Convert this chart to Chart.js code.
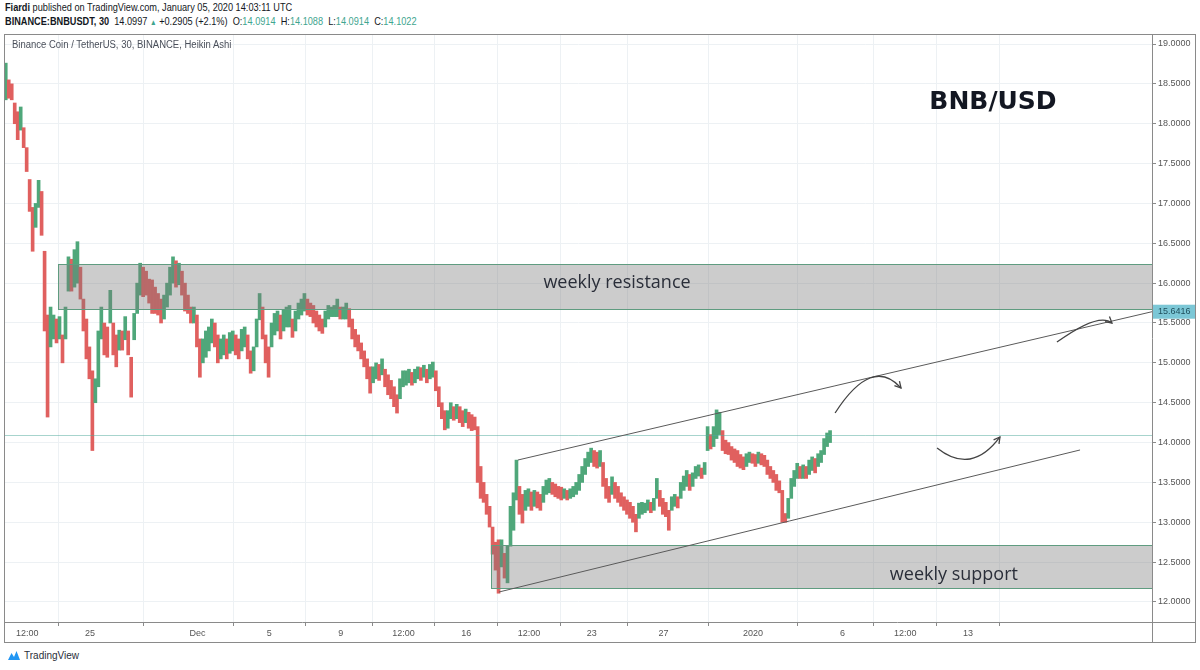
<!DOCTYPE html>
<html lang="en">
<head>
<meta charset="UTF-8" />
<title>BNB/USD - Binance Coin / TetherUS, 30, Heikin Ashi</title>
<script src="https://cdn.jsdelivr.net/npm/chart.js@4"></script>
<style>
  body {
    margin: 0;
    width: 1200px;
    height: 670px;
    background: #fff;
    color: #131722;
    font-family: 'Liberation Sans', Arial, sans-serif;
    position: relative;
    overflow: hidden;
  }
  .head { position: absolute; left: 5px; font-size: 11px; white-space: nowrap; transform: scaleX(0.835); transform-origin: left center; }
  .l1 { top: 1px; }
  .l2 { top: 15px; }
  .val { color: #3fa58f; }
  .tri { color: #3fa58f; font-size: 8px; }
  #frame {
    position: absolute;
    left: 4px; top: 34px;
    width: 1192px; height: 609px;
    border: 1px solid #8a8a8a;
    box-sizing: border-box;
  }
  #chart { position: absolute; left: 0; top: 0; }
  .legend { position: absolute; left: 12px; top: 39px; font-size: 10px; color: #4a4f5a; white-space: nowrap; transform: scaleX(0.95); transform-origin: left center; }
  .brand { position: absolute; left: 7px; top: 649px; font-size: 10px; color: #2a2e39; display: flex; align-items: center; gap: 3px; }
</style>
</head>
<body>

<div class="head l1"><b>Fiardi</b> published on TradingView.com, January 05, 2020 14:03:11 UTC</div>
<div class="head l2"><b>BINANCE:BNBUSDT, 30</b>&nbsp; 14.0997 <span class="tri">&#9650;</span> +0.2905 (+2.1%) &nbsp;O:<span class="val">14.0914</span> &nbsp;H:<span class="val">14.1088</span> &nbsp;L:<span class="val">14.0914</span> &nbsp;C:<span class="val">14.1022</span></div>

<div id="frame">
  <canvas id="chart" width="1190" height="607"></canvas>
</div>
<div class="legend">Binance Coin / TetherUS, 30, BINANCE, Heikin Ashi</div>

<div class="brand">
  <svg width="14" height="12" viewBox="0 0 14 12">
    <path d="M1 11 L4.5 4 L7 8 L9.5 2 L13 11 Z" fill="#2196f3"/>
  </svg>
  <span>TradingView</span>
</div>

<script>
  // 4-hour buckets of the 30 min Heikin Ashi candles, first bucket Nov 20 ~07:00
  const barStart = -10.7;      // days from Dec 1
  const barStep = 1 / 6;

  const lows = [
    18.30, 18.32, 18.30, 18.00, 17.80, 17.92, 17.70, 17.40, 16.90, 16.40,
    16.70, 16.95, 16.60, 15.40, 14.32, 15.20, 15.30, 15.25, 15.30, 15.00,
    15.30, 15.90, 15.90, 15.95, 16.00, 15.80, 15.40, 15.05, 14.80, 13.90,
    14.50, 14.70, 15.30, 15.10, 15.07, 15.50, 15.10, 14.95, 15.16, 15.16,
    15.29, 15.10, 14.57, 15.29, 15.62, 15.85, 15.83, 15.85, 15.75, 15.62,
    15.62, 15.60, 15.50, 15.55, 15.70, 15.85, 16.00, 15.95, 15.98, 15.85,
    15.65, 15.62, 15.50, 15.50, 15.20, 14.82, 15.00, 15.07, 15.15, 15.25,
    15.20, 15.00, 15.05, 15.10, 15.05, 15.12, 15.15, 15.10, 15.05, 15.15,
    15.20, 15.05, 14.87, 14.90, 15.20, 15.54, 15.30, 15.00, 14.82, 15.20,
    15.35, 15.40, 15.30, 15.40, 15.45, 15.45, 15.32, 15.40, 15.55, 15.60,
    15.65, 15.60, 15.58, 15.50, 15.45, 15.40, 15.37, 15.45, 15.55, 15.58,
    15.58, 15.58, 15.55, 15.55, 15.55, 15.45, 15.30, 15.20, 15.15, 15.05,
    14.95, 14.80, 14.62, 14.75, 14.80, 14.78, 14.85, 14.70, 14.60, 14.55,
    14.45, 14.37, 14.55, 14.70, 14.72, 14.75, 14.72, 14.75, 14.80, 14.78,
    14.82, 14.75, 14.80, 14.82, 14.65, 14.45, 14.30, 14.16, 14.18, 14.30,
    14.28, 14.30, 14.25, 14.20, 14.25, 14.18, 14.15, 14.16, 13.50, 13.30,
    13.25, 13.10, 12.94, 12.60, 12.40, 12.11, 12.44, 12.30, 12.24, 12.70,
    12.90, 13.28, 13.10, 12.99, 13.15, 13.20, 13.15, 13.20, 13.18, 13.15,
    13.25, 13.35, 13.37, 13.35, 13.32, 13.30, 13.28, 13.30, 13.28, 13.30,
    13.32, 13.35, 13.40, 13.50, 13.60, 13.70, 13.75, 13.70, 13.68, 13.70,
    13.45, 13.30, 13.25, 13.35, 13.30, 13.25, 13.20, 13.15, 13.10, 13.05,
    13.00, 12.88, 13.05, 13.10, 13.12, 13.15, 13.12, 13.15, 13.30, 13.20,
    13.10, 13.07, 12.90, 13.15, 13.20, 13.18, 13.30, 13.40, 13.45, 13.40,
    13.45, 13.55, 13.58, 13.55, 13.60, 13.90, 13.92, 13.95, 14.05, 14.10,
    13.90, 13.86, 13.85, 13.78, 13.75, 13.70, 13.68, 13.66, 13.70, 13.75,
    13.74, 13.70, 13.74, 13.72, 13.70, 13.60, 13.55, 13.50, 13.40, 13.37,
    13.00, 13.00, 13.05, 13.30, 13.45, 13.55, 13.55, 13.55, 13.55, 13.60,
    13.65, 13.62, 13.70, 13.75, 13.85, 13.95, 14.00
  ];

  const highs = [
    18.76, 18.55, 18.50, 18.26, 18.15, 18.21, 17.95, 17.70, 17.30, 16.95,
    17.00, 17.29, 17.15, 16.40, 15.60, 15.70, 15.60, 15.55, 15.58, 15.35,
    15.70, 16.33, 16.30, 16.42, 16.52, 16.20, 15.80, 15.55, 15.20, 14.90,
    14.80, 15.40, 15.70, 15.50, 15.45, 15.91, 15.50, 15.35, 15.41, 15.40,
    15.58, 15.40, 15.07, 15.62, 16.00, 16.25, 16.20, 16.15, 16.05, 16.04,
    15.95, 15.87, 15.80, 15.85, 16.00, 16.20, 16.33, 16.28, 16.25, 16.15,
    16.00, 15.85, 15.70, 15.70, 15.60, 15.30, 15.30, 15.40, 15.45, 15.55,
    15.50, 15.35, 15.30, 15.35, 15.30, 15.38, 15.40, 15.35, 15.30, 15.42,
    15.45, 15.35, 15.15, 15.20, 15.55, 15.87, 15.70, 15.35, 15.20, 15.50,
    15.62, 15.65, 15.60, 15.67, 15.70, 15.72, 15.55, 15.65, 15.75, 15.80,
    15.87, 15.80, 15.75, 15.72, 15.65, 15.60, 15.55, 15.65, 15.72, 15.70,
    15.72, 15.80, 15.70, 15.70, 15.75, 15.68, 15.55, 15.42, 15.35, 15.25,
    15.15, 15.05, 14.95, 14.95, 15.00, 14.98, 15.05, 14.92, 14.85, 14.78,
    14.70, 14.60, 14.80, 14.90, 14.90, 14.92, 14.88, 14.92, 14.95, 14.94,
    14.97, 14.92, 14.98, 15.01, 14.90, 14.70, 14.50, 14.40, 14.40, 14.50,
    14.45, 14.48, 14.45, 14.40, 14.42, 14.38, 14.35, 14.32, 14.20, 13.70,
    13.50, 13.35, 13.20, 12.94, 12.75, 12.78, 12.78, 12.61, 12.70, 13.20,
    13.37, 13.78, 13.45, 13.35, 13.40, 13.42, 13.38, 13.40, 13.38, 13.35,
    13.45, 13.53, 13.55, 13.50, 13.48, 13.45, 13.44, 13.42, 13.40, 13.42,
    13.45, 13.50, 13.60, 13.70, 13.80, 13.88, 13.93, 13.90, 13.88, 13.90,
    13.75, 13.55, 13.45, 13.57, 13.50, 13.45, 13.37, 13.32, 13.28, 13.25,
    13.20, 13.10, 13.24, 13.25, 13.24, 13.28, 13.25, 13.30, 13.55, 13.40,
    13.30, 13.25, 13.15, 13.32, 13.35, 13.32, 13.50, 13.58, 13.65, 13.60,
    13.62, 13.70, 13.72, 13.68, 13.75, 14.20, 14.10, 14.20, 14.41, 14.38,
    14.15, 14.03, 14.00, 13.95, 13.92, 13.90, 13.85, 13.82, 13.86, 13.88,
    13.86, 13.85, 13.88, 13.86, 13.84, 13.78, 13.70, 13.65, 13.60, 13.52,
    13.40, 13.11, 13.30, 13.55, 13.65, 13.74, 13.70, 13.72, 13.70, 13.78,
    13.82, 13.80, 13.86, 13.90, 14.05, 14.12, 14.15
  ];

  // time axis (days from Dec 1) and price axis
  const timeTicks = [-9.5, -6, 0, 4, 8, 11.5, 15, 18.5, 22, 26, 31, 36, 39.5, 43];
  const timeLabels = ['12:00', '25', 'Dec', '5', '9', '12:00', '16', '12:00', '23', '27', '2020', '6', '12:00', '13'];
  const priceTicks = [12, 12.5, 13, 13.5, 14, 14.5, 15, 15.5, 16, 16.5, 17, 17.5, 18, 18.5, 19];

  const xMin = -10.742, xMax = 53.265;
  const yMin = 11.749, yMax = 19.113;

  const lastPrice = 14.0997;

  // drawings: zones, channel, projected moves
  const resistance = { from: -7.78, lo: 15.675, hi: 16.24 };
  const support = { from: 16.38, lo: 12.175, hi: 12.715 };
  const channelTop = [[17.88, 13.781], [53.265, 15.6416]];
  const channelBottom = [[16.82, 12.125], [49.25, 13.907]];
  const arrows = [
    [[35.58, 14.371], [37.53, 14.81], [39.26, 14.684]],
    [[41.27, 13.932], [43.11, 13.794], [44.78, 14.07]],
    [[47.96, 15.261], [49.9, 15.51], [51.03, 15.50]]
  ];

  Chart.defaults.font.family = "'Liberation Sans', Arial, sans-serif";

  const bars = lows.map((lo, i) => ({ x: barStart + i * barStep, y: [lo, highs[i]] }));
  const barColors = lows.map((lo, i) => {
    const mid = (lo + highs[i]) / 2;
    const prev = i > 0 ? (lows[i - 1] + highs[i - 1]) / 2 : mid;
    return mid >= prev ? '#4fa77a' : '#e0605f';
  });

  function arrowHead(ctx, tipX, tipY, fromX, fromY) {
    const ang = Math.atan2(tipY - fromY, tipX - fromX);
    const len = 7;
    ctx.beginPath();
    ctx.moveTo(tipX - len * Math.cos(ang - 0.5), tipY - len * Math.sin(ang - 0.5));
    ctx.lineTo(tipX, tipY);
    ctx.lineTo(tipX - len * Math.cos(ang + 0.5), tipY - len * Math.sin(ang + 0.5));
    ctx.stroke();
  }

  const overlay = {
    id: 'overlay',
    afterDatasetsDraw(chart) {
      const { ctx, chartArea: a, scales } = chart;
      const X = v => scales.x.getPixelForValue(v);
      const Y = v => scales.y.getPixelForValue(v);

      ctx.save();
      ctx.beginPath();
      ctx.rect(a.left, a.top, a.right - a.left, a.bottom - a.top);
      ctx.clip();

      // last price line
      ctx.strokeStyle = 'rgba(80,170,155,0.5)';
      ctx.lineWidth = 1;
      ctx.beginPath();
      ctx.moveTo(a.left, Math.round(Y(lastPrice)) + 0.5);
      ctx.lineTo(a.right, Math.round(Y(lastPrice)) + 0.5);
      ctx.stroke();

      // zones
      [resistance, support].forEach(z => {
        const x0 = Math.round(X(z.from)), x1 = a.right;
        const y0 = Math.round(Y(z.hi)), y1 = Math.round(Y(z.lo));
        ctx.fillStyle = 'rgba(120,120,120,0.38)';
        ctx.fillRect(x0, y0, x1 - x0, y1 - y0);
        ctx.strokeStyle = '#5f9c80';
        ctx.strokeRect(x0 + 0.5, y0 + 0.5, x1 - x0, y1 - y0);
      });

      // channel
      ctx.strokeStyle = '#5a5a5a';
      ctx.lineWidth = 1;
      [channelTop, channelBottom].forEach(l => {
        ctx.beginPath();
        ctx.moveTo(X(l[0][0]), Y(l[0][1]));
        ctx.lineTo(X(l[1][0]), Y(l[1][1]));
        ctx.stroke();
      });

      // projected moves
      ctx.strokeStyle = '#444';
      ctx.lineWidth = 1.3;
      arrows.forEach(([s, m, e]) => {
        const sx = X(s[0]), sy = Y(s[1]), mx = X(m[0]), my = Y(m[1]), ex = X(e[0]), ey = Y(e[1]);
        const cx = 2 * mx - (sx + ex) / 2, cy = 2 * my - (sy + ey) / 2;
        ctx.beginPath();
        ctx.moveTo(sx, sy);
        ctx.quadraticCurveTo(cx, cy, ex, ey);
        ctx.stroke();
        arrowHead(ctx, ex, ey, cx, cy);
      });

      // labels
      ctx.fillStyle = '#2a2e39';
      ctx.textAlign = 'center';
      ctx.textBaseline = 'middle';
      ctx.font = "18px 'Open Sans', sans-serif";
      ctx.fillText('weekly resistance', X(23.41), Y(16.0));
      ctx.fillText('weekly support', X(42.21), Y(12.34));
      ctx.fillStyle = '#131722';
      ctx.font = "bold 25px 'DejaVu Sans', sans-serif";
      ctx.fillText('BNB/USD', X(44.39), Y(18.26));
      ctx.restore();

      // pane separators
      ctx.save();
      ctx.strokeStyle = '#8a8a8a';
      ctx.lineWidth = 1;
      ctx.beginPath();
      ctx.moveTo(Math.round(a.right) + 0.5, 0);
      ctx.lineTo(Math.round(a.right) + 0.5, chart.height);
      ctx.moveTo(0, Math.round(a.bottom) + 0.5);
      ctx.lineTo(chart.width, Math.round(a.bottom) + 0.5);
      ctx.stroke();

      // channel value on the price axis
      const by = Y(channelTop[1][1]);
      ctx.fillStyle = '#7cc7d6';
      ctx.fillRect(a.right + 1, by - 7, chart.width - a.right - 1, 14);
      ctx.fillStyle = '#1f4f5c';
      ctx.font = "9px 'Liberation Sans', Arial, sans-serif";
      ctx.textAlign = 'left';
      ctx.textBaseline = 'middle';
      ctx.fillText(channelTop[1][1].toFixed(4), a.right + 6, by);
      ctx.restore();
    }
  };

  new Chart(document.getElementById('chart'), {
    type: 'bar',
    data: {
      datasets: [{
        data: bars,
        backgroundColor: barColors,
        borderWidth: 0,
        barThickness: 3
      }]
    },
    options: {
      responsive: false,
      animation: false,
      layout: { padding: 0 },
      plugins: { legend: { display: false }, tooltip: { enabled: false } },
      scales: {
        x: {
          type: 'linear',
          min: xMin,
          max: xMax,
          offset: false,
          border: { display: false },
          grid: { color: '#edf1f4', tickColor: '#8a8a8a', tickLength: 4 },
          ticks: {
            autoSkip: false,
            maxRotation: 0,
            padding: 2,
            color: '#555',
            font: { size: 9 },
            callback: (v, i) => timeLabels[i]
          },
          afterBuildTicks: s => { s.ticks = timeTicks.map(v => ({ value: v })); },
          afterFit: s => { s.height = 20; s.paddingLeft = 0; s.paddingRight = 0; }
        },
        y: {
          position: 'right',
          min: yMin,
          max: yMax,
          border: { display: false },
          grid: { color: '#edf1f4', tickColor: '#8a8a8a', tickLength: 4 },
          ticks: {
            padding: 2,
            color: '#555',
            font: { size: 9 },
            callback: v => v.toFixed(4)
          },
          afterBuildTicks: s => { s.ticks = priceTicks.map(v => ({ value: v })); },
          afterFit: s => { s.width = 43; s.paddingTop = 0; s.paddingBottom = 0; }
        }
      }
    },
    plugins: [overlay]
  });
</script>

</body>
</html>
